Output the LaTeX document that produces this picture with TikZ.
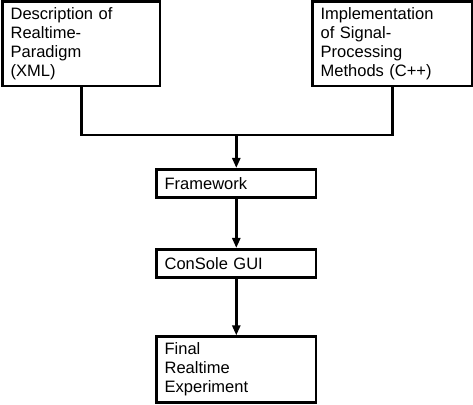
\documentclass[tikz,border=0pt]{standalone}
\usepackage{fontspec}
\setmainfont{Liberation Sans}
\usetikzlibrary{arrows.meta,positioning}

\begin{document}
\begin{tikzpicture}[x=1pt, y=1pt,
  box/.style={draw, line width=2.7pt, inner xsep=8pt, inner ysep=0pt, align=left, font=\fontsize{16.5}{19}\selectfont},
  flow/.style={line width=2.7pt, -{Triangle[length=10pt,width=8pt]}}]
  \useasboundingbox (0,0) rectangle (473,404);

  % Sources
  \node[box, text width=141.3pt, minimum height=84.3pt] (desc) at (81.3,360.2) {Description of\\Realtime-\\Paradigm\\(XML)};
  \node[box, text width=143.3pt, minimum height=84.3pt] (impl) at (392.3,360.2) {Implementation\\of Signal-\\Processing\\Methods (C++)};

  % Chain
  \node[box, text width=143.3pt, minimum height=28pt] (fw) at (236.3,220.7) {Framework};
  \node[box, text width=143.3pt, minimum height=28pt] (gui) at (236.3,140.7) {ConSole GUI};
  \node[box, text width=143.3pt, minimum height=66pt] (final) at (236.3,34.3) {Final\\Realtime\\Experiment};

  % Connectors
  \coordinate (join) at (236.3,269);
  \draw[line width=2.7pt] (desc.south) |- (join) -| (impl.south);
  \draw[flow] (join) -- (fw.north);
  \draw[flow] (fw.south) -- (gui.north);
  \draw[flow] (gui.south) -- (final.north);
\end{tikzpicture}
\end{document}
